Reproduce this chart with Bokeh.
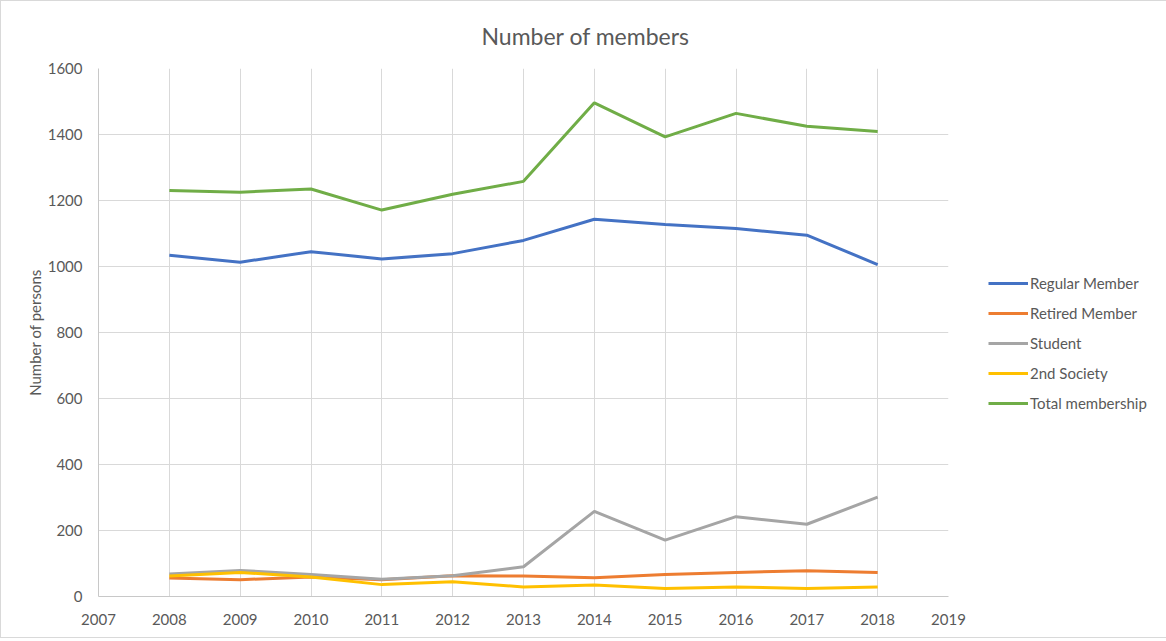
from bokeh.plotting import figure
from bokeh.models import FixedTicker, Legend, LegendItem, Range1d
from bokeh.embed import file_html
from bokeh.resources import INLINE

years = [2008, 2009, 2010, 2011, 2012, 2013, 2014, 2015, 2016, 2017, 2018]
regular = [1034, 1013, 1045, 1023, 1039, 1079, 1143, 1127, 1115, 1095, 1006]
retired = [56, 51, 59, 51, 63, 62, 57, 67, 73, 78, 73]
student = [68, 79, 67, 52, 63, 90, 258, 171, 242, 219, 301]
second = [62, 73, 59, 36, 45, 29, 35, 24, 29, 24, 29]
total = [1230, 1225, 1235, 1171, 1219, 1258, 1496, 1393, 1464, 1425, 1409]

names = ["Regular Member", "Retired Member", "Student", "2nd Society", "Total membership"]
series = [regular, retired, student, second, total]
colors = ["#4472C4", "#ED7D31", "#A5A5A5", "#FFC000", "#70AD47"]

FONT = "Lato"
TXT = "#595959"

p = figure(frame_width=850, frame_height=528, output_backend="svg", toolbar_location=None,
           x_range=Range1d(2007, 2019), y_range=Range1d(0, 1600),
           min_border_left=97, min_border_right=215, min_border_top=60, min_border_bottom=41,
           title="Number of members")
p.outline_line_color = None
p.background_fill_color = "white"
p.border_fill_color = "white"
p.styles = {"border": "1px solid #d9d9d9"}

p.title.text_font = FONT
p.title.text_font_size = "23px"
p.title.text_font_style = "normal"
p.title.text_color = TXT
p.title.align = "left"
p.title.offset = 383
p.title.standoff = 37

p.xaxis.ticker = FixedTicker(ticks=list(range(2007, 2020)))
p.yaxis.ticker = FixedTicker(ticks=list(range(0, 1601, 200)))
for ax in (p.xaxis[0], p.yaxis[0]):
    ax.major_tick_line_color = None
    ax.minor_tick_line_color = None
    ax.major_label_text_font = FONT
    ax.major_label_text_font_size = "15px"
    ax.major_label_text_color = TXT
    ax.axis_line_color = "#c8c8c8"
    ax.axis_line_width = 1
p.xaxis.major_label_standoff = 11
p.yaxis.major_label_standoff = 10
p.yaxis.axis_label = "Number of persons"
p.yaxis.axis_label_text_font = FONT
p.yaxis.axis_label_text_font_size = "15px"
p.yaxis.axis_label_text_font_style = "normal"
p.yaxis.axis_label_text_color = TXT
p.yaxis.axis_label_standoff = 1

p.xgrid.grid_line_color = "#d9d9d9"
p.ygrid.grid_line_color = "#d9d9d9"
p.xgrid.grid_line_width = 1
p.ygrid.grid_line_width = 1

items = []
for name, vals, c in zip(names, series, colors):
    r = p.line(years, vals, line_color=c, line_width=3)
    items.append(LegendItem(label=name, renderers=[r]))

legend = Legend(items=items, location=(40, 183))
legend.label_text_font = FONT
legend.label_text_font_size = "15px"
legend.label_text_color = TXT
legend.glyph_width = 40
legend.label_standoff = 2
legend.spacing = 10
legend.border_line_color = None
legend.background_fill_alpha = 0
legend.margin = 0
legend.padding = 0
legend.label_height = 20
legend.glyph_height = 20
p.add_layout(legend, "right")

open("out.html", "w").write(file_html(p, INLINE))
